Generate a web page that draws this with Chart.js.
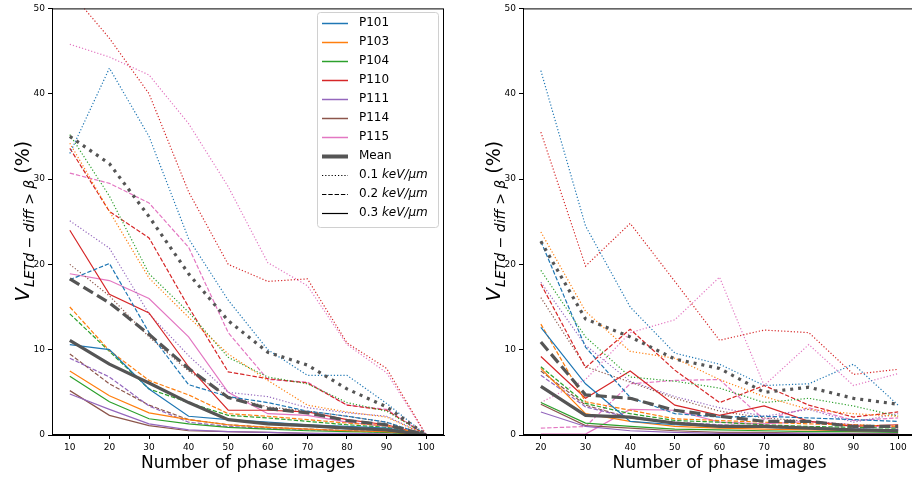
<!DOCTYPE html>
<html>
<head>
<meta charset="utf-8">
<script src="https://cdn.jsdelivr.net/npm/chart.js@4.4.1/dist/chart.umd.min.js"></script>
<style>
  html, body { margin: 0; padding: 0; background: #fff; overflow: hidden; width: 912px; height: 479px; }
  .panel { position: absolute; top: 0; height: 479px; }
  #leftWrap { left: 0; width: 460px; }
  #rightWrap { left: 460px; width: 460px; }
</style>
</head>
<body>
<div class="panel" id="leftWrap"><canvas id="leftChart" width="460" height="479"></canvas></div>
<div class="panel" id="rightWrap"><canvas id="rightChart" width="460" height="479"></canvas></div>
<script>
// ===============================
// DATA
// ===============================
const patients = ['P101', 'P103', 'P104', 'P110', 'P111', 'P114', 'P115'];
const thresholds = ['0.1', '0.2', '0.3'];
const xLeft = [10, 20, 30, 40, 50, 60, 70, 80, 90, 100];
const xRight = [20, 30, 40, 50, 60, 70, 80, 90, 100];
const yTicks = [0, 10, 20, 30, 40, 50];

// left panel, one row per patient (same order as patients)
const left01 = [
  [33.0, 43.0, 35.0, 23.0, 15.8, 10.0, 7.0, 7.0, 3.7, 0],
  [34.2, 26.2, 18.4, 13.8, 9.5, 6.4, 3.5, 2.7, 2.1, 0],
  [35.2, 28.0, 18.9, 14.4, 9.1, 6.8, 6.0, 3.8, 2.8, 0],
  [52.0, 46.5, 40.0, 28.5, 20.0, 18.0, 18.3, 10.8, 7.8, 0],
  [25.1, 21.9, 14.2, 9.3, 5.0, 4.5, 3.2, 2.6, 2.2, 0],
  [20.0, 16.3, 11.5, 7.5, 4.5, 3.3, 2.8, 2.2, 1.5, 0],
  [45.8, 44.3, 42.2, 36.5, 29.1, 20.2, 17.5, 10.6, 7.3, 0],
];
const left02 = [
  [18.2, 20.1, 12.0, 5.9, 4.5, 3.8, 2.8, 2.2, 1.5, 0],
  [15.0, 9.9, 6.4, 4.7, 2.5, 2.2, 1.8, 1.4, 1.1, 0],
  [14.2, 9.8, 5.4, 3.8, 2.3, 2.0, 1.6, 1.2, 0.9, 0],
  [33.6, 26.2, 23.1, 15.0, 7.4, 6.6, 6.1, 3.5, 2.9, 0],
  [9.0, 6.8, 3.4, 1.5, 1.0, 0.8, 0.6, 0.5, 0.3, 0],
  [9.5, 6.0, 3.5, 1.8, 1.2, 0.9, 0.7, 0.5, 0.4, 0],
  [30.7, 29.5, 27.2, 22.0, 12.0, 6.5, 6.2, 3.5, 3.0, 0],
];
const left03 = [
  [10.6, 10.0, 5.4, 2.2, 1.8, 1.5, 1.2, 1.0, 0.8, 0],
  [7.5, 4.6, 2.6, 1.8, 1.2, 0.9, 0.7, 0.5, 0.4, 0],
  [6.9, 3.9, 1.9, 1.3, 0.9, 0.7, 0.5, 0.4, 0.3, 0],
  [24.0, 16.5, 14.3, 8.0, 2.9, 2.9, 2.7, 1.8, 1.2, 0],
  [4.8, 3.0, 1.3, 0.6, 0.4, 0.3, 0.2, 0.2, 0.1, 0],
  [5.2, 2.3, 1.1, 0.5, 0.4, 0.3, 0.2, 0.1, 0.1, 0],
  [18.9, 18.1, 16.0, 11.5, 5.0, 2.5, 2.3, 1.5, 1.0, 0],
];
const leftMean01 = [35.0, 31.8, 25.6, 18.9, 13.4, 9.7, 8.2, 5.4, 3.3, 0];
const leftMean02 = [18.3, 15.5, 11.8, 7.8, 4.4, 3.1, 2.6, 1.7, 1.2, 0];
const leftMean03 = [11.1, 8.3, 6.1, 3.8, 1.8, 1.3, 1.1, 0.8, 0.6, 0];

// right panel
const right01 = [
  [42.7, 24.5, 15.0, 9.6, 8.3, 5.8, 6.0, 8.3, 3.5],
  [23.8, 14.5, 9.8, 9.0, 6.5, 4.5, 3.0, 2.5, 2.2],
  [19.3, 11.5, 6.8, 6.3, 5.5, 3.8, 4.3, 3.4, 2.2],
  [35.5, 19.8, 24.8, 18.0, 11.1, 12.3, 12.0, 7.1, 7.7],
  [17.9, 10.5, 6.3, 4.5, 3.2, 2.2, 3.0, 1.5, 2.5],
  [16.1, 8.0, 6.2, 4.3, 2.8, 2.0, 1.6, 1.2, 1.0],
  [3.8, 6.5, 12.0, 13.5, 18.5, 5.8, 10.6, 5.8, 7.2],
];
const right02 = [
  [22.7, 10.3, 4.4, 2.5, 2.1, 2.2, 2.0, 1.8, 1.6],
  [13.0, 3.9, 2.9, 1.9, 1.7, 1.5, 1.3, 1.2, 1.0],
  [8.0, 3.7, 2.5, 1.7, 1.5, 1.2, 1.0, 0.9, 0.8],
  [17.7, 7.9, 12.4, 7.6, 3.8, 5.8, 3.5, 2.1, 2.7],
  [7.0, 3.3, 2.0, 1.5, 1.2, 1.0, 0.9, 0.7, 0.6],
  [7.5, 3.5, 2.0, 1.4, 1.1, 0.9, 0.8, 0.6, 0.5],
  [0.8, 1.0, 6.0, 6.4, 6.5, 1.8, 3.2, 1.7, 2.0],
];
const right03 = [
  [12.6, 6.0, 1.6, 1.2, 1.0, 0.9, 0.8, 0.7, 0.6],
  [7.8, 2.5, 1.6, 1.0, 0.8, 0.7, 0.6, 0.5, 0.5],
  [3.8, 1.4, 1.0, 0.7, 0.6, 0.5, 0.4, 0.4, 0.3],
  [9.2, 4.3, 7.5, 3.5, 2.3, 3.4, 1.6, 1.0, 1.2],
  [2.7, 1.0, 0.5, 0.3, 0.2, 0.2, 0.2, 0.1, 0.1],
  [3.6, 1.1, 0.8, 0.5, 0.3, 0.3, 0.2, 0.2, 0.2],
  [0.1, 0.1, 3.0, 2.9, 1.5, 1.3, 1.6, 1.2, 0.8],
];
const rightMean01 = [22.7, 13.6, 11.5, 8.9, 7.8, 5.0, 5.6, 4.3, 3.6];
const rightMean02 = [10.9, 4.7, 4.3, 2.9, 2.2, 1.6, 1.6, 1.0, 1.0];
const rightMean03 = [5.7, 2.3, 2.1, 1.4, 1.0, 1.0, 0.8, 0.6, 0.5];

// ===============================
// STYLE
// ===============================
const seriesColors = ['#1f77b4', '#ff7f0e', '#2ca02c', '#d62728', '#9467bd', '#8c564b', '#e377c2'];
const meanColor = '#555555';
const dashStyles = [[1.2, 2], [4.4, 1.9], []];
const meanDash = [[3, 4.95], [11.1, 4.8], []];
const FONT = '"DejaVu Sans", "Liberation Sans", sans-serif';
const ySubText = 'LETd \u2212 diff > \u03b2';

function buildDatasets(xs, groups, means) {
  const sets = [];
  patients.forEach((name, p) => {
    groups.forEach((group, g) => {
      sets.push({
        label: name + ' ' + thresholds[g],
        data: group[p].map((v, i) => ({ x: xs[i], y: v })),
        borderColor: seriesColors[p],
        borderWidth: 1.2,
        borderDash: dashStyles[g],
        pointRadius: 0,
        tension: 0,
        fill: false,
        order: 1,
      });
    });
  });
  means.forEach((vals, g) => {
    sets.push({
      label: 'Mean ' + thresholds[g],
      data: vals.map((v, i) => ({ x: xs[i], y: v })),
      borderColor: meanColor,
      borderWidth: 3.2,
      borderDash: meanDash[g],
      pointRadius: 0,
      tension: 0,
      fill: false,
      order: 0,
    });
  });
  return sets;
}

function drawYTitle(ctx, x, yc) {
  ctx.save();
  ctx.translate(x, yc);
  ctx.rotate(-Math.PI / 2);
  const fV = 'italic 20px ' + FONT, fS = 'italic 14px ' + FONT, fP = '19px ' + FONT;
  ctx.font = fV; const wV = ctx.measureText('V').width;
  ctx.font = fS; const wS = ctx.measureText(ySubText).width;
  ctx.font = fP; const wP = ctx.measureText(' (%)').width;
  let cx = -(wV + wS + wP) / 2;
  ctx.fillStyle = '#000';
  ctx.textBaseline = 'alphabetic';
  ctx.font = fV; ctx.fillText('V', cx, 0); cx += wV + 1;
  ctx.font = fS; ctx.fillText(ySubText, cx, 5); cx += wS;
  ctx.font = fP; ctx.fillText(' (%)', cx, 0);
  ctx.restore();
}

function drawLegend(ctx) {
  const bx = 317.5, by = 12.5, bw = 121, bh = 215;
  ctx.save();
  ctx.beginPath();
  ctx.roundRect(bx, by, bw, bh, 3);
  ctx.fillStyle = 'rgba(255,255,255,0.85)';
  ctx.fill();
  ctx.strokeStyle = '#d0d0d0';
  ctx.lineWidth = 1;
  ctx.stroke();
  const entries = patients.map((n, i) => ({ text: n, color: seriesColors[i], width: 1.5, dash: [] }));
  entries.push({ text: 'Mean', color: meanColor, width: 4, dash: [] });
  thresholds.forEach((t, g) => entries.push({ text: t, unit: 'keV/\u03bcm', color: '#000', width: 1.2, dash: dashStyles[g] }));
  ctx.textBaseline = 'middle';
  entries.forEach((e, i) => {
    const yy = 23 + i * 19;
    ctx.beginPath();
    ctx.setLineDash(e.dash);
    ctx.strokeStyle = e.color;
    ctx.lineWidth = e.width;
    ctx.moveTo(322, yy + 0.5);
    ctx.lineTo(348, yy + 0.5);
    ctx.stroke();
    ctx.setLineDash([]);
    ctx.fillStyle = '#000';
    ctx.font = '12px ' + FONT;
    ctx.fillText(e.text, 359, yy);
    if (e.unit) {
      const w = ctx.measureText(e.text + ' ').width;
      ctx.font = 'italic 12px ' + FONT;
      ctx.fillText(e.unit, 359 + w, yy);
    }
  });
  ctx.restore();
}

function framePlugin(opts) {
  return {
    id: 'frame',
    afterDraw(chart) {
      const { ctx, chartArea: a } = chart;
      ctx.save();
      ctx.strokeStyle = '#000';
      ctx.lineWidth = 1;
      ctx.strokeRect(a.left + 0.5, a.top + 0.5, a.right - a.left - 1, a.bottom - a.top - 1);
      ctx.fillStyle = '#000';
      ctx.font = '17px ' + FONT;
      ctx.textAlign = 'center';
      ctx.textBaseline = 'alphabetic';
      ctx.fillText('Number of phase images', (a.left + a.right) / 2, 468);
      ctx.textAlign = 'left';
      drawYTitle(ctx, opts.yTitleX, (a.top + a.bottom) / 2);
      if (opts.legend) drawLegend(ctx);
      ctx.restore();
    },
  };
}

function makeChart(id, xs, xMin, xMax, groups, means, o) {
  const ctx = document.getElementById(id).getContext('2d');
  return new Chart(ctx, {
    type: 'line',
    data: { datasets: buildDatasets(xs, groups, means) },
    options: {
      responsive: false,
      animation: false,
      layout: { padding: { top: 6, right: o.padRight, left: 0, bottom: 0 } },
      plugins: { legend: { display: false }, tooltip: { enabled: false } },
      scales: {
        x: {
          type: 'linear',
          min: xMin,
          max: xMax,
          afterBuildTicks: (scale) => { scale.ticks = xs.map(v => ({ value: v })); },
          afterFit: (scale) => { scale.height = 44; },
          grid: { display: true, drawOnChartArea: false, drawTicks: true, tickLength: 4, color: '#000' },
          border: { display: true, color: '#000', width: 1 },
          ticks: { font: { family: FONT, size: 9 }, color: '#000', padding: 3, maxRotation: 0 },
        },
        y: {
          type: 'linear',
          min: 0,
          max: 50,
          afterBuildTicks: (scale) => { scale.ticks = yTicks.map(v => ({ value: v })); },
          afterFit: (scale) => { scale.width = o.yWidth; },
          grid: { display: true, drawOnChartArea: false, drawTicks: true, tickLength: 4, color: '#000' },
          border: { display: true, color: '#000', width: 1 },
          ticks: { font: { family: FONT, size: 9 }, color: '#000', padding: 3 },
        },
      },
    },
    plugins: [framePlugin(o)],
  });
}

// ===============================
// LEFT PANEL
// ===============================
const leftChart = makeChart('leftChart', xLeft, 5.5, 104.5,
  [left01, left02, left03], [leftMean01, leftMean02, leftMean03],
  { padRight: 16, yWidth: 52, yTitleX: 29, legend: true });

// ===============================
// RIGHT PANEL
// ===============================
const rightChart = makeChart('rightChart', xRight, 16, 104,
  [right01, right02, right03], [rightMean01, rightMean02, rightMean03],
  { padRight: 4, yWidth: 63, yTitleX: 40, legend: false });
</script>
</body>
</html>
